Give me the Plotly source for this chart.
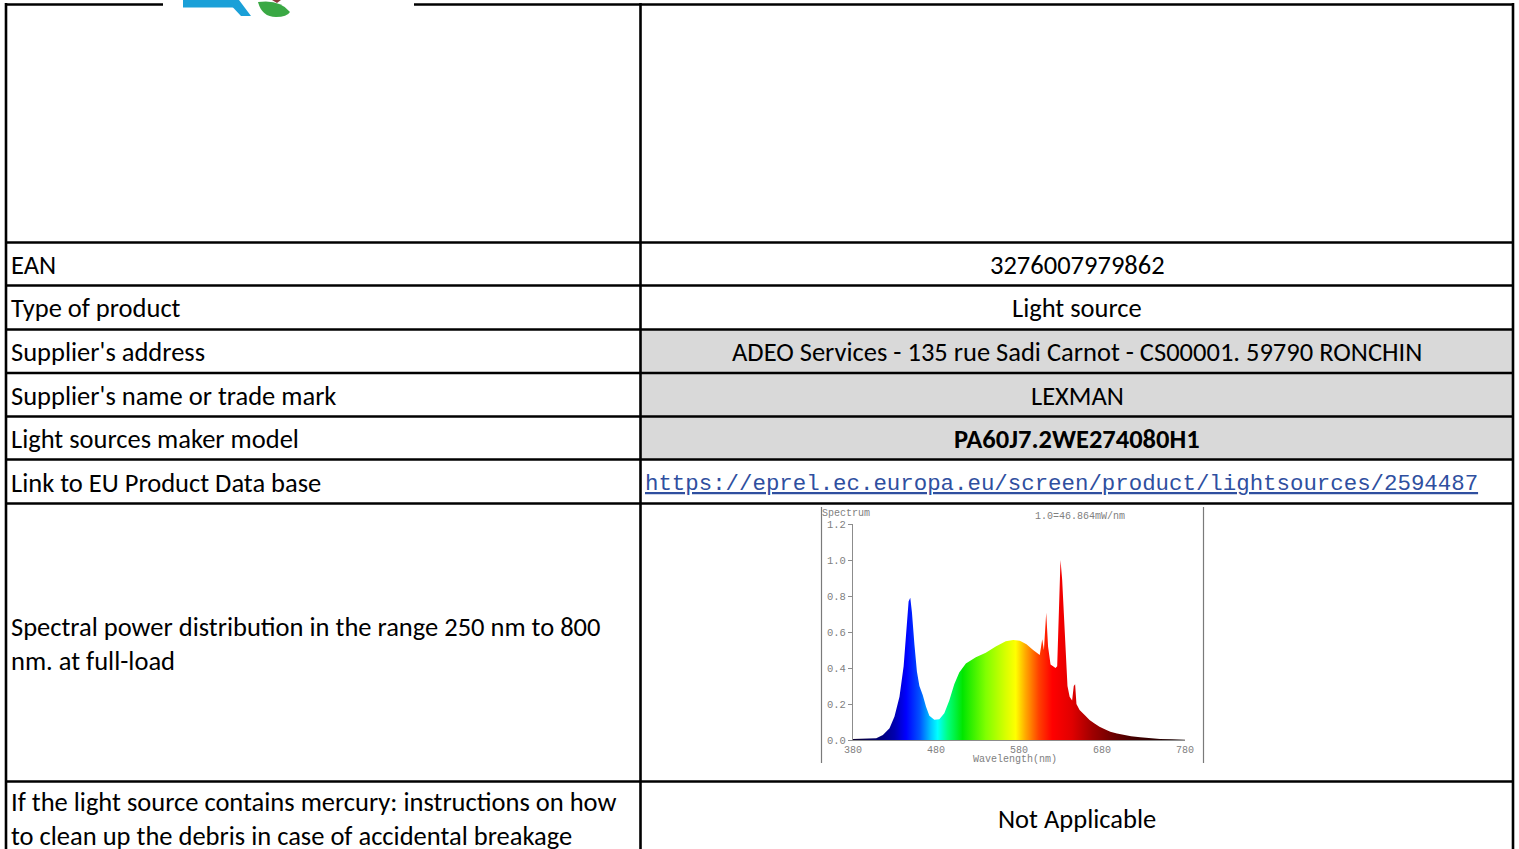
import plotly.graph_objects as go

W, H = 1519, 849

# ---------------- data ----------------
row_labels = [
    "EAN",
    "Type of product",
    "Supplier's address",
    "Supplier's name or trade mark",
    "Light sources maker model",
    "Link to EU Product Data base",
]
row_values = [
    "3276007979862",
    "Light source",
    "ADEO Services - 135 rue Sadi Carnot - CS00001. 59790 RONCHIN",
    "LEXMAN",
    "PA60J7.2WE274080H1",
    "https://eprel.ec.europa.eu/screen/product/lightsources/2594487",
]
spectral_label = ["Spectral power distribution in the range 250 nm to 800", "nm. at full-load"]
mercury_label = ["If the light source contains mercury: instructions on how",
                 "to clean up the debris in case of accidental breakage"]
mercury_value = "Not Applicable"

wavelength = [380, 390, 400, 408, 416, 424, 430, 436, 441, 444, 447, 449, 451, 454,
              457, 460, 464, 468, 472, 478, 484, 490, 496, 502, 508, 516, 528, 540,
              552, 564, 573, 581, 589, 597, 603, 605, 608, 610, 612.8, 615, 618, 621,
              624, 626, 627.7, 630, 632, 634, 636, 638.4, 641, 644, 646, 647.6, 649.2,
              653, 660, 665, 671, 677, 684, 690, 698, 706, 715, 726, 738, 750, 764, 780]
spectrum = [0.006, 0.007, 0.008, 0.010, 0.028, 0.065, 0.13, 0.24, 0.41, 0.57, 0.77, 0.79,
            0.71, 0.53, 0.38, 0.30, 0.25, 0.185, 0.135, 0.112, 0.115, 0.148, 0.22, 0.31,
            0.375, 0.425, 0.46, 0.485, 0.52, 0.548, 0.556, 0.552, 0.532, 0.50, 0.48, 0.472,
            0.56, 0.50, 0.707, 0.52, 0.42, 0.41, 0.40, 0.41, 0.65, 1.0, 0.89, 0.72, 0.56,
            0.30, 0.24, 0.22, 0.30, 0.31, 0.20, 0.167, 0.135, 0.111, 0.092, 0.074, 0.058,
            0.046, 0.036, 0.028, 0.021, 0.015, 0.010, 0.006, 0.004, 0.002]
y_ticks = [0.0, 0.2, 0.4, 0.6, 0.8, 1.0, 1.2]
x_ticks = [380, 480, 580, 680, 780]

# ---------------- helpers (pixel -> paper) ----------------
def X(px):
    return px / W

def Y(py):
    return 1 - py / H

TEXT_FONT = "Calibri, Carlito, Lato, sans-serif"
MONO = "Liberation Mono, Courier New, monospace"
TSIZE = 26.5

fig = go.Figure()

# spectrum chart (embedded image)
spectral_scale = [
    [0.000, "#0a0030"], [0.075, "#000070"], [0.125, "#0000b0"], [0.160, "#0000ff"],
    [0.200, "#0050ff"], [0.235, "#00c8ff"], [0.255, "#00ffff"], [0.285, "#00ff80"],
    [0.330, "#00e600"], [0.400, "#80ff00"], [0.460, "#d8ff00"], [0.490, "#ffff00"],
    [0.520, "#ffa800"], [0.560, "#ff4000"], [0.600, "#ff0000"], [0.660, "#e00000"],
    [0.720, "#a00000"], [0.780, "#700000"], [0.850, "#400000"], [1.000, "#100000"],
]
fig.add_trace(go.Scatter(
    x=wavelength, y=spectrum, mode="lines", fill="tozeroy",
    line=dict(width=0, color="rgba(0,0,0,0)"),
    fillgradient=dict(type="horizontal", colorscale=spectral_scale, start=380, stop=780),
    hoverinfo="skip", showlegend=False,
))

axis_grey = "#8c8c8c"
fig.update_xaxes(
    domain=[X(853), X(1185)], range=[380, 780], tickvals=x_ticks,
    ticktext=[str(v) for v in x_ticks], showgrid=False, zeroline=False,
    showline=True, linecolor=axis_grey, linewidth=1, ticks="",
    tickfont=dict(family=MONO, size=10, color="#808080"),
    fixedrange=True, automargin=False,
)
fig.update_yaxes(
    domain=[Y(740), Y(524)], range=[0, 1.2], tickvals=y_ticks,
    ticktext=["%.1f" % v for v in y_ticks], showgrid=False, zeroline=False,
    showline=True, linecolor=axis_grey, linewidth=1, ticks="outside", ticklen=4,
    tickcolor=axis_grey, tickfont=dict(family=MONO, size=10.5, color="#808080"),
    fixedrange=True, automargin=False,
)

shapes = []
# gray cell fills
for top, bot in [(329, 373), (373, 416), (416, 459)]:
    shapes.append(dict(type="rect", xref="paper", yref="paper", x0=X(641), x1=X(1512),
                       y0=Y(bot), y1=Y(top), fillcolor="#d9d9d9", line=dict(width=0),
                       layer="below"))

LW = 2.6
def hline(y, x0, x1):
    shapes.append(dict(type="line", xref="paper", yref="paper", x0=X(x0), x1=X(x1),
                       y0=Y(y), y1=Y(y), line=dict(color="black", width=LW)))

def vline(x, y0, y1, color="black", width=LW):
    shapes.append(dict(type="line", xref="paper", yref="paper", x0=X(x), x1=X(x),
                       y0=Y(y0), y1=Y(y1), line=dict(color=color, width=width)))

hline(4.5, 6, 163)
hline(4.5, 414, 1514)
for yy in [242.5, 285.5, 329.5, 373, 416.5, 459.5, 503.5, 781.5]:
    hline(yy, 6, 1514)
vline(6, 3, 852)
vline(640.5, 3, 852)
vline(1513, 3, 852)

# image border lines of the embedded spectrum picture
vline(821.5, 507, 763, color="#7a7a7a", width=1.2)
vline(1203.5, 507, 763, color="#7a7a7a", width=1.2)

# partial logo at the top
shapes.append(dict(type="path", xref="paper", yref="paper",
                   path="M %f,%f L %f,%f L %f,%f L %f,%f Z" % (X(183), Y(0), X(238), Y(0), X(236), Y(7.5), X(183), Y(7.5)),
                   fillcolor="#1aa0d8", line=dict(width=0)))
shapes.append(dict(type="path", xref="paper", yref="paper",
                   path="M %f,%f L %f,%f L %f,%f L %f,%f Z" % (X(226), Y(0), X(239), Y(0), X(251), Y(16), X(241), Y(16)),
                   fillcolor="#1aa0d8", line=dict(width=0)))
shapes.append(dict(type="path", xref="paper", yref="paper",
                   path="M %f,%f Q %f,%f %f,%f Q %f,%f %f,%f Q %f,%f %f,%f Z" % (
                       X(258), Y(2), X(262), Y(17), X(276), Y(17),
                       X(287), Y(17), X(290), Y(12), X(280), Y(-1), X(258), Y(2)),
                   fillcolor="#3aa844", line=dict(width=0)))
shapes.append(dict(type="path", xref="paper", yref="paper",
                   path="M %f,%f L %f,%f L %f,%f Z" % (X(272), Y(0), X(281), Y(0), X(277), Y(3)),
                   fillcolor="#8a3a3a", line=dict(width=0)))

annotations = []
def text(px, py, s, anchor="left", size=TSIZE, family=TEXT_FONT, color="black"):
    annotations.append(dict(xref="paper", yref="paper", x=X(px), y=Y(py), text=s,
                            showarrow=False, xanchor=anchor, yanchor="middle",
                            font=dict(family=family, size=size, color=color)))

row_centers = [265, 308, 352, 396, 439, 483]
for lab, val, cy in zip(row_labels, row_values, row_centers):
    text(9, cy, lab)
    if val.startswith("http"):
        text(643, cy + 1, "<u>%s</u>" % val, size=22.4, family=MONO, color="#2f4f9f")
    elif lab == "Light sources maker model":
        text(1077, cy, "<b>%s</b>" % val, anchor="center")
    else:
        text(1077, cy, val, anchor="center")

text(9, 627, spectral_label[0])
text(9, 661, spectral_label[1])
text(9, 802, mercury_label[0])
text(9, 835.5, mercury_label[1])
text(1077, 819, mercury_value, anchor="center")

# chart texts
text(820, 513, "Spectrum", size=10, family=MONO, color="#808080")
text(1080, 516, "1.0=46.864mW/nm", anchor="center", size=10, family=MONO, color="#808080")
text(1015, 759.5, "Wavelength(nm)", anchor="center", size=10, family=MONO, color="#808080")

fig.update_layout(
    width=W, height=H, margin=dict(l=0, r=0, t=0, b=0, pad=0, autoexpand=False),
    paper_bgcolor="white", plot_bgcolor="white",
    shapes=shapes, annotations=annotations, showlegend=False,
)

fig.write_html(
    "out.html",
    config={"displayModeBar": False},
    post_script="document.body.style.margin='0px';document.body.style.overflow='hidden';",
)
